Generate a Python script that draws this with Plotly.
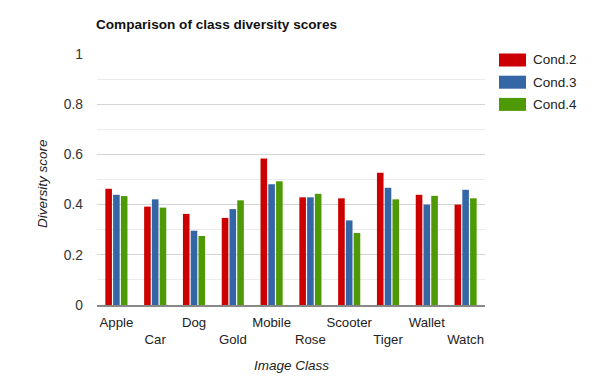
import plotly.graph_objects as go

categories = ["Apple", "Car", "Dog", "Gold", "Mobile", "Rose", "Scooter", "Tiger", "Wallet", "Watch"]
cond2 = [0.463, 0.392, 0.363, 0.347, 0.584, 0.429, 0.425, 0.527, 0.439, 0.400]
cond3 = [0.439, 0.421, 0.296, 0.382, 0.481, 0.429, 0.337, 0.467, 0.400, 0.459]
cond4 = [0.434, 0.388, 0.275, 0.417, 0.493, 0.443, 0.287, 0.421, 0.435, 0.425]
series_names = ["Cond.2", "Cond.3", "Cond.4"]
colors = ["#cc0000", "#3465a4", "#4e9a06"]
y_ticks = [0, 0.2, 0.4, 0.6, 0.8, 1]
y_ticktext = ["0", "0.2", "0.4", "0.6", "0.8", "1"]
y_minor_ticks = [0.1, 0.3, 0.5, 0.7, 0.9]

W, H = 596, 382
L, R, T, B = 97, 111, 54, 77
PW, PH = W - L - R, H - T - B


def px_x(x):
    return (x - L) / PW


def px_y(y):
    return 1 - (y - T) / PH


# staggered category labels
tick_text = [c if i % 2 == 0 else "<br>" + c for i, c in enumerate(categories)]

fig = go.Figure()
for name, vals, col in zip(series_names, [cond2, cond3, cond4], colors):
    fig.add_trace(go.Bar(x=categories, y=vals, name=name, marker_color=col,
                         marker_line_width=0, showlegend=False))

font_family = "Liberation Sans, Arial, sans-serif"
text_col = "#222222"

# custom legend (wide swatches like the reference)
shapes, annotations = [], []
for i, (name, col) in enumerate(zip(series_names, colors)):
    yc = 60 + i * 22.2
    shapes.append(dict(type="rect", xref="paper", yref="paper",
                       x0=px_x(499), x1=px_x(526),
                       y0=px_y(yc + 6.5), y1=px_y(yc - 6.5),
                       fillcolor=col, line=dict(width=0)))
    annotations.append(dict(xref="paper", yref="paper",
                            x=px_x(531), y=px_y(yc),
                            xanchor="left", yanchor="middle", showarrow=False,
                            text=name, font=dict(size=13.5, color=text_col)))

# axis titles
annotations.append(dict(xref="paper", yref="paper", x=px_x(291), y=px_y(365),
                        xanchor="center", yanchor="middle", showarrow=False,
                        text="<i>Image Class</i>", font=dict(size=13.5, color=text_col)))
annotations.append(dict(xref="paper", yref="paper", x=px_x(42), y=px_y(184),
                        xanchor="center", yanchor="middle", showarrow=False, textangle=-90,
                        text="<i>Diversity score</i>", font=dict(size=13.5, color=text_col)))

fig.update_layout(
    width=W, height=H,
    margin=dict(l=L, r=R, t=T, b=B, autoexpand=False),
    paper_bgcolor="white", plot_bgcolor="white",
    barmode="group", bargap=0.4, bargroupgap=0.15,
    font=dict(family=font_family, size=13, color=text_col),
    title=dict(text="<b>Comparison of class diversity scores</b>",
               x=96 / W, xanchor="left", y=1 - 24 / H, yanchor="middle",
               font=dict(size=13.6, color="#111111")),
    xaxis=dict(tickvals=categories, ticktext=tick_text, showgrid=False,
               showline=True, linecolor="#888888", linewidth=1.5, ticks="",
               tickangle=0, automargin=False, ticklabelstandoff=4,
               tickfont=dict(size=13.2, color=text_col)),
    yaxis=dict(range=[0, 1], tickvals=y_ticks, ticktext=y_ticktext,
               showgrid=True, gridcolor="#d4d4d4", gridwidth=1, zeroline=False,
               ticks="", ticklabelstandoff=13, automargin=False,
               minor=dict(tickvals=y_minor_ticks, showgrid=True,
                          gridcolor="#ebebeb", gridwidth=1, ticks=""),
               tickfont=dict(size=13.8, color="#333333")),
    shapes=shapes, annotations=annotations,
)
fig.write_html("out.html", post_script="document.body.style.margin='0';",
               config={"displayModeBar": False})
